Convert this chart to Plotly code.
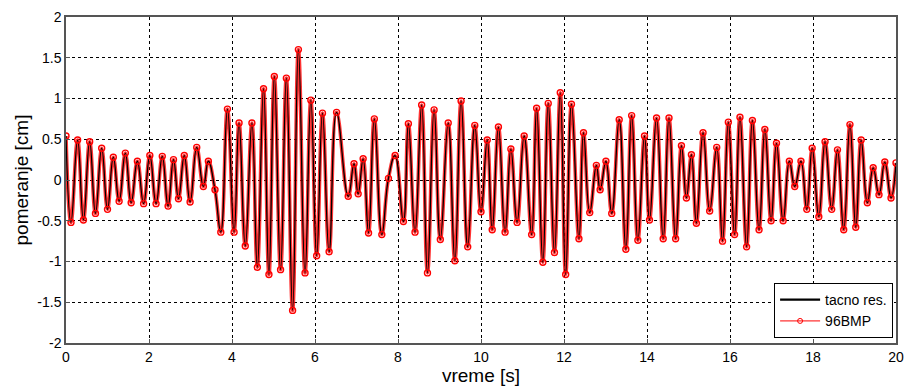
import plotly.graph_objects as go

# Extrema (time [s], displacement [cm])
t_ext = [0.00, 0.12, 0.28, 0.42, 0.57, 0.71, 0.86, 1.00, 1.14, 1.28, 1.43, 1.57, 1.72, 1.87,
         2.02, 2.17, 2.32, 2.46, 2.59, 2.71, 2.85, 2.99, 3.15, 3.31, 3.43, 3.59, 3.73, 3.89,
         4.05, 4.17, 4.32, 4.48, 4.61, 4.76, 4.89, 5.02, 5.17, 5.31, 5.46, 5.60, 5.76, 5.90,
         6.04, 6.18, 6.34, 6.52, 6.80, 6.94, 7.04, 7.16, 7.29, 7.43, 7.61, 7.77, 7.93, 8.13,
         8.25, 8.41, 8.57, 8.71, 8.87, 9.02, 9.21, 9.37, 9.52, 9.68, 9.85, 10.00, 10.15,
         10.27, 10.42, 10.58, 10.72, 10.87, 11.04, 11.22, 11.34, 11.49, 11.62, 11.77, 11.91,
         12.04, 12.18, 12.36, 12.47, 12.62, 12.78, 12.87, 13.01, 13.15, 13.33, 13.49, 13.63,
         13.78, 13.94, 14.06, 14.23, 14.39, 14.53, 14.69, 14.83, 14.95, 15.07, 15.19, 15.35,
         15.51, 15.68, 15.82, 15.96, 16.11, 16.24, 16.40, 16.54, 16.70, 16.84, 16.99, 17.12,
         17.28, 17.43, 17.56, 17.71, 17.85, 17.98, 18.14, 18.29, 18.45, 18.59, 18.74, 18.89,
         19.03, 19.16, 19.31, 19.45, 19.59, 19.73, 19.88, 20.00]
y_exact = [0.54, -0.52, 0.49, -0.49, 0.47, -0.41, 0.39, -0.36, 0.28, -0.26, 0.33, -0.28, 0.23, -0.29,
           0.30, -0.29, 0.29, -0.32, 0.25, -0.23, 0.30, -0.27, 0.40, -0.08, 0.23, -0.12, -0.64, 0.87,
           -0.64, 0.70, -0.81, 0.70, -1.07, 1.12, -1.16, 1.27, -1.10, 1.25, -1.60, 1.60, -1.14, 0.98,
           -0.93, 0.82, -0.88, 0.83, -0.20, 0.20, -0.17, 0.26, -0.65, 0.75, -0.67, 0.02, 0.30, -0.51,
           0.69, -0.64, 0.92, -1.14, 0.86, -0.73, 0.70, -0.99, 0.97, -0.82, 0.67, -0.39, 0.49,
           -0.61, 0.65, -0.64, 0.38, -0.52, 0.54, -0.67, 0.88, -1.01, 0.94, -0.89, 1.07,
           -1.16, 0.93, -0.72, 0.58, -0.40, 0.18, -0.12, 0.23, -0.41, 0.74, -0.85, 0.79,
           -0.74, 0.54, -0.49, 0.76, -0.72, 0.76, -0.72, 0.42, -0.22, 0.31, -0.53, 0.58,
           -0.38, 0.40, -0.75, 0.71, -0.67, 0.77, -0.82, 0.73, -0.61, 0.62, -0.50, 0.45,
           -0.50, 0.23, -0.08, 0.23, -0.36, 0.39, -0.45, 0.47, -0.36, 0.37, -0.61, 0.68,
           -0.58, 0.49, -0.28, 0.15, -0.18, 0.22, -0.22, 0.21]
y_96bmp = list(y_exact)

x_ticks = [0, 2, 4, 6, 8, 10, 12, 14, 16, 18, 20]
y_ticks = [-2, -1.5, -1, -0.5, 0, 0.5, 1, 1.5, 2]
y_tick_labels = ["-2", "-1.5", "-1", "-0.5", "0", "0.5", "1", "1.5", "2"]

FONT = "Liberation Sans, Arial, sans-serif"

fig = go.Figure()
# red approximation underlay (thick, semi-transparent)
fig.add_trace(go.Scatter(
    x=t_ext, y=y_96bmp, mode="lines", showlegend=False, hoverinfo="skip",
    line=dict(color="rgba(255,0,0,0.8)", width=3.6, shape="spline", smoothing=1.3),
))
# exact solution on top (black)
fig.add_trace(go.Scatter(
    x=t_ext, y=y_exact, mode="lines", showlegend=False,
    line=dict(color="black", width=1.3, shape="spline", smoothing=1.3),
))
# red markers
fig.add_trace(go.Scatter(
    x=t_ext, y=y_96bmp, mode="markers", showlegend=False,
    marker=dict(symbol="circle-open", size=6, color="red", line=dict(width=1.4)),
))
# legend entries
fig.add_trace(go.Scatter(
    x=[None], y=[None], mode="lines", name="tacno res.",
    line=dict(color="black", width=2.2),
))
fig.add_trace(go.Scatter(
    x=[None], y=[None], mode="lines+markers", name="96BMP",
    line=dict(color="red", width=1),
    marker=dict(symbol="circle-open", size=5, color="red", line=dict(width=1)),
))

axis_common = dict(
    showline=True, linecolor="#555555", linewidth=1.5, mirror=True,
    ticks="inside", ticklen=4, tickcolor="#555555",
    showgrid=True, gridcolor="black", griddash="3px,3px", gridwidth=1,
    zeroline=False, automargin=False,
    tickfont=dict(family=FONT, size=14, color="black"),
)

fig.update_layout(
    width=906, height=389,
    margin=dict(l=66, r=10, t=17, b=46),
    paper_bgcolor="white", plot_bgcolor="white",
    font=dict(family=FONT, color="black"),
    xaxis=dict(range=[0, 20], tickvals=x_ticks, **axis_common,
               title=dict(text="vreme [s]", font=dict(size=19), standoff=2)),
    yaxis=dict(range=[-2, 2], tickvals=y_ticks, ticktext=y_tick_labels, **axis_common,
               title=dict(text="pomeranje [cm]", font=dict(size=19), standoff=4)),
    legend=dict(
        x=0.9965, y=0.015, xanchor="right", yanchor="bottom",
        bgcolor="white", bordercolor="black", borderwidth=1,
        font=dict(size=14, family=FONT),
        tracegroupgap=0, itemwidth=40,
    ),
    showlegend=True,
)

fig.write_html("out.html",
               config={"displayModeBar": False},
               post_script="document.body.style.margin='0';document.body.style.overflow='hidden';")
